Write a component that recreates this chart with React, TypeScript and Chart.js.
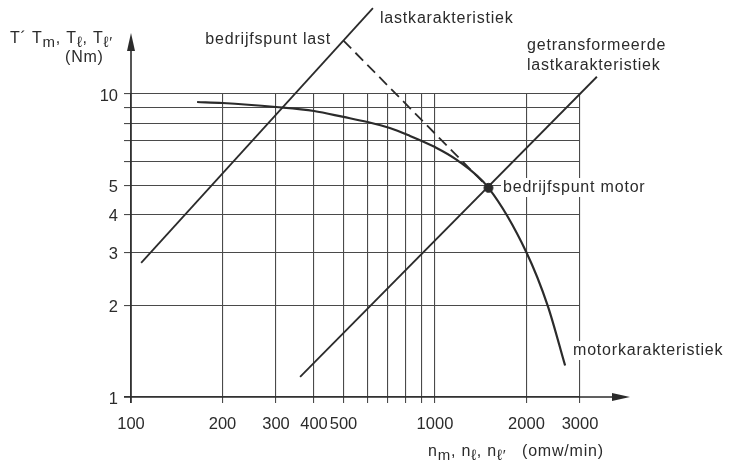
import React, { useEffect, useRef } from "react";
import { Chart, registerables } from "chart.js";

Chart.register(...registerables);

const FONT = "'Liberation Sans', Arial, Helvetica, sans-serif";
const INK = "#2b2b2b";

// x axis (omw/min), log scale
const X_GRID = [100, 200, 300, 400, 500, 600, 700, 800, 900, 1000, 2000, 3000];
const X_LABELS = [100, 200, 300, 400, 500, 1000, 2000, 3000];
// y axis (Nm), log scale
const Y_GRID = [1, 2, 3, 4, 5, 6, 7, 8, 9, 10];
const Y_LABELS = [1, 2, 3, 4, 5, 10];

// motorkarakteristiek
const MOTOR_N = [165, 200, 300, 400, 500, 600, 710, 815, 1000, 1180, 1500, 2000, 2350, 2680];
const MOTOR_T = [9.41, 9.34, 9.06, 8.79, 8.4, 8.08, 7.72, 7.32, 6.68, 6.06, 4.9, 3.0, 2.0, 1.27];

// lastkarakteristiek
const LAST_N = [108, 625];
const LAST_T = [2.77, 19.2];

// getransformeerde lastkarakteristiek
const TRANS_N = [360, 3410];
const TRANS_T = [1.165, 11.4];

// bedrijfspunten: last, motor
const OP_N = [500, 1500];
const OP_T = [15, 4.9];

const zip = (xs: number[], ys: number[]) => xs.map((x, i) => ({ x, y: ys[i] }));

type Part = { t: string; sub?: boolean };

function drawRich(ctx: CanvasRenderingContext2D, x: number, y: number, parts: Part[]) {
  let cx = x;
  (ctx as any).letterSpacing = "0.8px";
  parts.forEach((p) => {
    ctx.font = p.sub ? `15px ${FONT}` : `16px ${FONT}`;
    ctx.fillText(p.t, cx, p.sub ? y + 3.5 : y);
    cx += ctx.measureText(p.t).width;
  });
  (ctx as any).letterSpacing = "0px";
}

function label(ctx: CanvasRenderingContext2D, text: string, x: number, y: number, align: CanvasTextAlign = "left") {
  ctx.font = `16px ${FONT}`;
  (ctx as any).letterSpacing = "0.8px";
  ctx.textAlign = align;
  ctx.textBaseline = "alphabetic";
  const w = ctx.measureText(text).width;
  const left = align === "right" ? x - w : x;
  ctx.fillStyle = "#ffffff";
  ctx.fillRect(left - 2, y - 14, w + 4, 19);
  ctx.fillStyle = INK;
  ctx.fillText(text, x, y);
  (ctx as any).letterSpacing = "0px";
}

const decorPlugin = {
  id: "decor",
  afterDraw(chart: any) {
    const ctx: CanvasRenderingContext2D = chart.ctx;
    const { left, right, top, bottom } = chart.chartArea;
    ctx.save();
    ctx.strokeStyle = INK;
    ctx.fillStyle = INK;
    ctx.lineWidth = 1.6;
    // y axis with arrow
    ctx.beginPath();
    ctx.moveTo(left, bottom + 6);
    ctx.lineTo(left, top - 48);
    ctx.stroke();
    ctx.beginPath();
    ctx.moveTo(left, top - 61);
    ctx.lineTo(left - 4, top - 43);
    ctx.lineTo(left + 4, top - 43);
    ctx.closePath();
    ctx.fill();
    // x axis with arrow
    ctx.beginPath();
    ctx.moveTo(left - 7, bottom);
    ctx.lineTo(right + 36, bottom);
    ctx.stroke();
    ctx.beginPath();
    ctx.moveTo(right + 50, bottom);
    ctx.lineTo(right + 32, bottom - 4);
    ctx.lineTo(right + 32, bottom + 4);
    ctx.closePath();
    ctx.fill();

    // annotations
    label(ctx, "bedrijfspunt last", 331, 44, "right");
    label(ctx, "lastkarakteristiek", 380, 23);
    label(ctx, "getransformeerde", 527, 50);
    label(ctx, "lastkarakteristiek", 527, 70);
    label(ctx, "bedrijfspunt motor", 503, 192);
    label(ctx, "motorkarakteristiek", 573, 355);

    // axis titles
    ctx.fillStyle = INK;
    ctx.textAlign = "left";
    ctx.textBaseline = "alphabetic";
    drawRich(ctx, 10, 43, [
      { t: "T\u00B4 T" },
      { t: "m", sub: true },
      { t: ", T" },
      { t: "\u2113", sub: true },
      { t: ", T" },
      { t: "\u2113\u2032", sub: true },
    ]);
    drawRich(ctx, 65, 62, [{ t: "(Nm)" }]);
    drawRich(ctx, 428, 456, [
      { t: "n" },
      { t: "m", sub: true },
      { t: ", n" },
      { t: "\u2113", sub: true },
      { t: ", n" },
      { t: "\u2113\u2032", sub: true },
      { t: "   (omw/min)" },
    ]);
    ctx.restore();
  },
};

export default function App() {
  const ref = useRef<HTMLCanvasElement | null>(null);
  useEffect(() => {
    if (!ref.current) return;
    const chart = new Chart(ref.current, {
      type: "line",
      data: {
        datasets: [
          {
            label: "motorkarakteristiek",
            data: zip(MOTOR_N, MOTOR_T),
            borderColor: INK,
            borderWidth: 2.2,
            pointRadius: 0,
            cubicInterpolationMode: "monotone",
            clip: false,
          } as any,
          {
            label: "lastkarakteristiek",
            data: zip(LAST_N, LAST_T),
            borderColor: INK,
            borderWidth: 1.8,
            pointRadius: 0,
            clip: false,
          },
          {
            label: "getransformeerde lastkarakteristiek",
            data: zip(TRANS_N, TRANS_T),
            borderColor: INK,
            borderWidth: 1.8,
            pointRadius: 0,
            clip: false,
          },
          {
            label: "overdracht",
            data: zip(OP_N, OP_T),
            borderColor: INK,
            borderWidth: 1.8,
            borderDash: [11, 6],
            pointRadius: 0,
            clip: false,
          },
          {
            label: "bedrijfspunten",
            data: zip(OP_N, OP_T),
            showLine: false,
            pointRadius: 4.5,
            pointBackgroundColor: INK,
            pointBorderColor: INK,
            clip: false,
          },
        ],
      },
      options: {
        animation: false,
        responsive: true,
        maintainAspectRatio: false,
        layout: { padding: { left: 0, top: 94, right: 152, bottom: 0 } },
        plugins: { legend: { display: false }, tooltip: { enabled: false } },
        scales: {
          x: {
            type: "logarithmic",
            min: 100,
            max: 3000,
            afterBuildTicks: (s: any) => {
              s.ticks = X_GRID.map((v) => ({ value: v }));
            },
            afterFit: (s: any) => {
              s.height = 68;
            },
            ticks: {
              autoSkip: false,
              maxRotation: 0,
              minRotation: 0,
              padding: 12,
              color: INK,
              font: { family: FONT, size: 16.5 },
              callback: (v: any) => (X_LABELS.includes(Number(v)) ? String(v) : ""),
            },
            grid: { color: "#4a4a4a", lineWidth: 1.1, tickLength: 6 },
            border: { display: false },
          },
          y: {
            type: "logarithmic",
            min: 1,
            max: 10,
            afterBuildTicks: (s: any) => {
              s.ticks = Y_GRID.map((v) => ({ value: v }));
            },
            afterFit: (s: any) => {
              s.width = 131;
            },
            ticks: {
              autoSkip: false,
              padding: 6,
              labelOffset: 2,
              color: INK,
              font: { family: FONT, size: 16.5 },
              callback: (v: any) => (Y_LABELS.includes(Number(v)) ? String(v) : ""),
            },
            grid: { color: "#4a4a4a", lineWidth: 1.1, tickLength: 7 },
            border: { display: false },
          },
        },
      } as any,
      plugins: [decorPlugin],
    });
    return () => chart.destroy();
  }, []);
  return (
    <div style={{ position: "fixed", left: 0, top: 0, width: 732, height: 465, background: "#fff" }}>
      <canvas ref={ref} />
    </div>
  );
}
